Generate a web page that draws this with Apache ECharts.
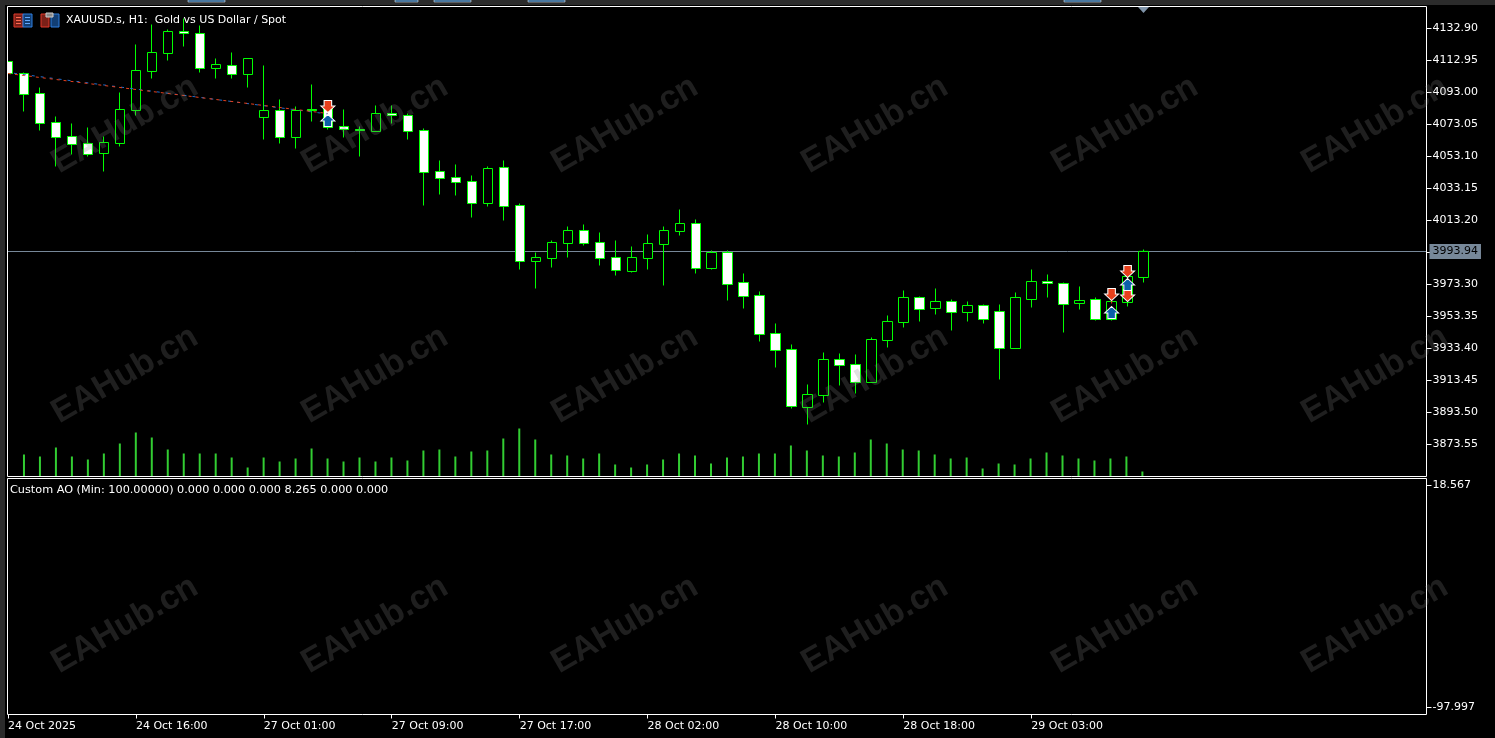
<!DOCTYPE html>
<html>
<head>
<meta charset="utf-8">
<title>XAUUSD.s H1</title>
<script src="https://cdn.jsdelivr.net/npm/echarts@6/dist/echarts.min.js"></script>
<style>
html, body { margin: 0; padding: 0; background: #000; }
#chart { width: 1495px; height: 738px; }
</style>
</head>
<body>
<div id="chart"></div>
<script>
// bars, oldest first
const opens = [4112.33, 4104.85, 4092.38, 4074.30, 4065.57, 4061.21, 4054.97, 4061.21, 4081.78, 4106.10, 4117.32, 4131.03,
    4129.79, 4107.97, 4109.84, 4104.23, 4077.42, 4081.78, 4064.95, 4082.41, 4083.03, 4071.81, 4069.94, 4068.69,
    4079.91, 4078.66, 4069.31, 4043.75, 4040.01, 4037.52, 4023.80, 4046.25, 4022.55, 3987.64, 3989.51, 3998.86,
    4006.97, 3999.49, 3990.14, 3981.41, 3989.51, 3998.24, 4006.35, 4011.33, 3983.28, 3993.25, 3974.55, 3966.45,
    3942.75, 3932.78, 3896.62, 3904.10, 3926.55, 3923.43, 3912.21, 3938.39, 3949.61, 3965.20, 3958.34, 3962.70,
    3955.85, 3960.21, 3956.47, 3933.40, 3963.95, 3975.17, 3973.93, 3961.46, 3963.95, 3951.48, 3962.08, 3977.67];
const closes = [4104.85, 4091.76, 4073.68, 4064.95, 4060.58, 4054.35, 4061.83, 4082.41, 4106.72, 4117.94, 4131.03, 4129.79,
    4107.97, 4110.46, 4104.23, 4114.20, 4081.78, 4064.95, 4081.78, 4081.78, 4071.18, 4069.94, 4069.31, 4079.91,
    4078.66, 4068.69, 4043.13, 4039.39, 4036.89, 4023.80, 4045.62, 4021.93, 3987.64, 3990.14, 3999.49, 4006.97,
    3998.86, 3989.51, 3982.03, 3990.14, 3998.86, 4006.97, 4011.33, 3983.28, 3993.25, 3973.30, 3965.82, 3942.13,
    3932.16, 3897.24, 3904.72, 3926.55, 3922.80, 3912.21, 3939.01, 3950.24, 3965.20, 3957.72, 3962.70, 3955.85,
    3960.21, 3951.48, 3933.40, 3965.20, 3975.17, 3973.93, 3960.83, 3963.33, 3951.48, 3962.70, 3978.29, 3993.94];
const lows = [4104.23, 4081.16, 4069.31, 4046.87, 4054.35, 4053.10, 4043.75, 4059.34, 4078.66, 4101.73, 4112.95, 4121.68,
    4105.47, 4101.73, 4101.73, 4096.12, 4063.70, 4061.21, 4058.09, 4074.92, 4069.94, 4064.95, 4053.10, 4068.69,
    4073.68, 4063.70, 4022.55, 4029.41, 4028.79, 4015.07, 4021.93, 4013.20, 3982.65, 3970.81, 3983.90, 3990.14,
    3997.62, 3985.15, 3978.91, 3980.78, 3982.65, 3972.68, 4003.85, 3980.16, 3982.65, 3963.33, 3958.34, 3937.77,
    3921.56, 3896.00, 3886.02, 3899.74, 3910.34, 3905.35, 3912.21, 3934.03, 3946.50, 3950.24, 3954.60, 3944.62,
    3950.24, 3948.99, 3914.08, 3933.40, 3958.96, 3965.20, 3943.38, 3957.72, 3950.86, 3950.86, 3959.59, 3974.55];
const highs = [4112.95, 4105.47, 4096.12, 4078.04, 4073.68, 4071.18, 4065.57, 4093.00, 4122.93, 4135.40, 4132.28, 4139.14,
    4134.77, 4114.20, 4117.94, 4114.20, 4109.84, 4088.64, 4084.28, 4097.99, 4088.02, 4082.41, 4071.81, 4084.90,
    4084.90, 4079.91, 4070.56, 4050.61, 4048.12, 4041.26, 4046.87, 4050.61, 4023.80, 3993.25, 4000.73, 4009.46,
    4010.71, 4005.72, 4000.73, 3996.99, 4004.48, 4009.46, 4020.06, 4013.83, 3994.50, 3994.50, 3980.16, 3968.94,
    3948.99, 3935.90, 3910.96, 3930.91, 3930.29, 3929.66, 3940.26, 3953.98, 3969.56, 3965.82, 3970.81, 3963.95,
    3962.70, 3960.83, 3960.83, 3968.32, 3982.65, 3979.54, 3974.55, 3972.06, 3965.20, 3969.56, 3985.15, 3995.12];
// first bar's volume is off the left edge of the chart, so it has no reading
const volumes = [null, 2200, 2000, 2900, 2000, 1700, 2300, 3300, 4400, 3900, 2700, 2300,
    2300, 2300, 1900, 900, 1900, 1500, 1800, 2800, 1800, 1500, 1900, 1500,
    1900, 1600, 2600, 2700, 2000, 2500, 2600, 3800, 4800, 3700, 2200, 2100,
    1800, 2300, 1200, 900, 1200, 1700, 2300, 2100, 1300, 1900, 2000, 2300,
    2300, 3100, 2600, 2100, 2000, 2400, 3700, 3300, 2700, 2600, 2200, 1800,
    1900, 800, 1300, 1200, 1800, 2400, 2100, 1800, 1600, 1800, 2000, 500];

// one label every 8 bars
const timeLabels = ['24 Oct 2025', '24 Oct 16:00', '27 Oct 01:00', '27 Oct 09:00', '27 Oct 17:00',
    '28 Oct 02:00', '28 Oct 10:00', '28 Oct 18:00', '29 Oct 03:00'];
const priceTicks = [4132.90, 4112.95, 4093.00, 4073.05, 4053.10, 4033.15, 4013.20, 3993.25,
    3973.30, 3953.35, 3933.40, 3913.45, 3893.50, 3873.55];
const aoTicks = [18.567, -97.997];
const bidPrice = 3993.94;

// trade arrows [bar, price]
const sellArrows = [[20, 4084.28], [69, 3967.07], [70, 3981.41], [70, 3966.45]];
const buyArrows = [[20, 4075.55], [69, 3955.85], [70, 3973.30]];
const tradeLineBlue = [[0, 4105.47], [20, 4079.60]];
const tradeLineRed = [[0, 4104.85], [20, 4079.91]];
const tradeLink1 = [[69, 3967.07], [69, 3955.85]];
const tradeLink2 = [[70, 3981.41], [70, 3966.45]];

const BAND = 16;
const BAND_COUNT = 89;
const categories = Array.from({ length: BAND_COUNT }, (_, i) => (i % 8 === 0 && i / 8 < timeLabels.length) ? timeLabels[i / 8] : '');
const candles = opens.map((o, i) => [o, closes[i], lows[i], highs[i]]);
const isTickBar = i => i % 8 === 0 && i < opens.length;

const fontFamily = '"DejaVu Sans", Verdana, sans-serif';
const arrowDown = 'path://M3 0 H10 V5 H13 L6.5 11 L0 5 H3 Z';
const arrowUp = 'path://M6.5 0 L13 6 H10 V11 H3 V6 H0 Z';
const tradeLine = (data, color, dash, offset) => ({
    type: 'line', data, symbol: 'none', silent: true, z: 4, animation: false,
    xAxisIndex: 0, yAxisIndex: 0,
    lineStyle: { color, width: 1, type: dash, dashOffset: offset }
});
const arrows = (data, symbol, color) => ({
    type: 'scatter', data, symbol, symbolSize: [14, 12], silent: true, z: 5, animation: false,
    xAxisIndex: 0, yAxisIndex: 0,
    itemStyle: { color, opacity: 1, borderColor: '#fff', borderWidth: 1 }
});

// chrome: window strips, frame, icons
const rect = (x, y, width, height, style, z) => ({ type: 'rect', shape: { x, y, width, height }, style, z: z || 20, silent: true });
const chrome = [
    rect(0, 0, 7, 738, { fill: '#000' }),
    rect(0, 0, 5, 738, { fill: '#2b2b2b' }),
    rect(0, 0, 1495, 5, { fill: '#2b2b2b' }),
    rect(7.5, 6.5, 1419, 470, { fill: 'transparent', stroke: '#fff', lineWidth: 1 }, 21),
    rect(7.5, 478.5, 1419, 236, { fill: 'transparent', stroke: '#fff', lineWidth: 1 }, 21),
    rect(188, 0, 37, 2, { fill: '#0f4c81', stroke: '#fff', lineWidth: 0.5 }),
    rect(395, 0, 23, 2, { fill: '#0f4c81', stroke: '#fff', lineWidth: 0.5 }),
    rect(434, 0, 37, 2, { fill: '#0f4c81', stroke: '#fff', lineWidth: 0.5 }),
    rect(528, 0, 37, 2, { fill: '#0f4c81', stroke: '#fff', lineWidth: 0.5 }),
    rect(1064, 0, 37, 2, { fill: '#0f4c81', stroke: '#fff', lineWidth: 0.5 }),
    rect(14, 14, 9, 13, { fill: '#7a2018', stroke: '#e0392b', lineWidth: 1 }, 22),
    rect(23, 14, 9, 13, { fill: '#123e73', stroke: '#2e7fe0', lineWidth: 1 }, 22),
    rect(16, 17, 5, 1, { fill: '#ff6a50' }, 23), rect(16, 20, 5, 1, { fill: '#ff6a50' }, 23), rect(16, 23, 5, 1, { fill: '#ff6a50' }, 23),
    rect(25, 17, 5, 1, { fill: '#60a8ff' }, 23), rect(25, 20, 5, 1, { fill: '#60a8ff' }, 23), rect(25, 23, 5, 1, { fill: '#60a8ff' }, 23),
    rect(41, 14, 8, 13, { fill: '#7a2018', stroke: '#e0392b', lineWidth: 1 }, 22),
    rect(51, 14, 8, 13, { fill: '#123e73', stroke: '#2e7fe0', lineWidth: 1 }, 22),
    rect(46, 13, 7, 4, { fill: '#888', stroke: '#ccc', lineWidth: 1 }, 23),
    { type: 'polygon', shape: { points: [[1138, 7], [1149, 7], [1143.5, 13]] }, style: { fill: '#7f93a8' }, z: 22, silent: true },
    rect(1423, 251, 4, 1, { fill: '#778899' }, 19),
    { type: 'text', x: 66, y: 15, style: { text: 'XAUUSD.s, H1:  Gold vs US Dollar / Spot', fill: '#fff', font: '11px ' + fontFamily }, z: 22, silent: true },
    { type: 'text', x: 10, y: 485, style: { text: 'Custom AO (Min: 100.00000) 0.000 0.000 0.000 8.265 0.000 0.000', fill: '#fff', font: '11.25px ' + fontFamily }, z: 22, silent: true }
];

// watermark tiles over the whole page
const watermarks = [];
[125, 375, 625].forEach(cy => {
    [125, 375, 625, 875, 1125, 1375].forEach(cx => {
        watermarks.push({
            type: 'text', x: cx, y: cy, rotation: Math.PI / 6, silent: true, z: 30,
            style: { text: 'EAHub.cn', fill: 'rgba(130,130,130,0.24)', font: 'bold 34px "Liberation Sans", Arial, sans-serif', align: 'center', verticalAlign: 'middle' }
        });
    });
});

const chart = echarts.init(document.getElementById('chart'), null, { renderer: 'canvas' });
chart.setOption({
    backgroundColor: '#000',
    animation: false,
    textStyle: { fontFamily },
    graphic: { elements: chrome.concat(watermarks) },
    grid: [
        { left: -0.5, top: 6.5, width: BAND * BAND_COUNT, height: 470 },
        { left: -1, top: 478.5, width: BAND * BAND_COUNT, height: 236 },
        { left: -2, top: 6.5, width: BAND * BAND_COUNT, height: 470 } // volumes sit a pixel left of the wicks
    ],
    xAxis: [
        { type: 'category', gridIndex: 0, data: categories, axisLine: { show: false, onZero: false }, axisTick: { show: false }, axisLabel: { show: false }, splitLine: { show: false } },
        {
            type: 'category', gridIndex: 1, data: categories,
            axisLine: { show: false, onZero: false },
            axisTick: { show: true, alignWithLabel: true, length: 4, interval: isTickBar, lineStyle: { color: '#fff' } },
            axisLabel: { show: true, interval: isTickBar, color: '#fff', fontSize: 11, align: 'left', margin: 6, fontFamily },
            splitLine: { show: false }
        },
        { type: 'category', gridIndex: 2, data: categories, show: false }
    ],
    yAxis: [
        {
            type: 'value', gridIndex: 0, position: 'right', offset: 3, min: 3853.60, max: 4146.62,
            axisLine: { show: false },
            axisTick: { show: true, length: 5, customValues: priceTicks, lineStyle: { color: '#fff' } },
            axisLabel: { show: true, color: '#fff', fontSize: 11, margin: 6, padding: [4, 0, 0, 0], fontFamily, customValues: priceTicks.filter(v => v !== 3993.25), formatter: v => v.toFixed(2) },
            splitLine: { show: false }
        },
        { type: 'value', gridIndex: 2, min: 0, max: 47000, show: false, splitLine: { show: false } },
        {
            type: 'value', gridIndex: 1, position: 'right', offset: 3.5, min: -101.67, max: 22.24,
            axisLine: { show: false },
            axisTick: { show: true, length: 5, customValues: aoTicks, lineStyle: { color: '#fff' } },
            axisLabel: { show: true, color: '#fff', fontSize: 11, margin: 6, padding: [4, 0, 0, 0], fontFamily, customValues: aoTicks, formatter: v => v.toFixed(3) },
            splitLine: { show: false }
        }
    ],
    series: [
        {
            type: 'bar', name: 'Volumes', xAxisIndex: 2, yAxisIndex: 1, data: volumes, barWidth: 2, silent: true,
            itemStyle: { color: '#32cd32' }, z: 1
        },
        {
            type: 'candlestick', name: 'XAUUSD.s', xAxisIndex: 0, yAxisIndex: 0, data: candles, barWidth: 10, silent: true, z: 3,
            itemStyle: { color: '#000', color0: '#fff', borderColor: '#00ff00', borderColor0: '#00ff00', borderWidth: 1 },
            markLine: {
                silent: true, symbol: 'none', z: 1, animation: false,
                lineStyle: { color: '#778899', width: 1, type: 'solid' },
                label: {
                    show: true, position: 'end', distance: 6, formatter: bidPrice.toFixed(2), color: '#000',
                    backgroundColor: '#778899', padding: [2, 3], fontSize: 11, fontFamily
                },
                data: [{ yAxis: bidPrice }]
            }
        },
        tradeLine(tradeLineBlue, '#1e6fd0', [3, 6], 3),
        tradeLine(tradeLineRed, '#e8401c', [3, 4], 0),
        tradeLine(tradeLink1, '#e8401c', [3, 3], 0),
        tradeLine(tradeLink2, '#e8401c', [3, 3], 0),
        arrows(sellArrows, arrowDown, '#e8401c'),
        arrows(buyArrows, arrowUp, '#0a5fa8'),
        // empty indicator window
        { type: 'line', name: 'Custom AO', xAxisIndex: 1, yAxisIndex: 2, data: [], silent: true }
    ]
});
</script>
</body>
</html>
